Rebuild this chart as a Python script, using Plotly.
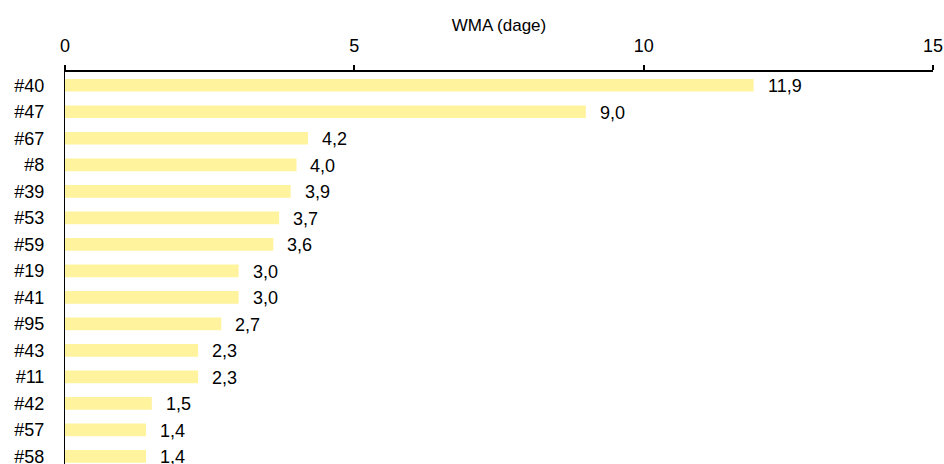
import plotly.graph_objects as go

# WMA per location (dage)
locations = ['#40', '#47', '#67', '#8', '#39', '#53', '#59', '#19', '#41', '#95',
             '#43', '#11', '#42', '#57', '#58']
wma = [11.9, 9.0, 4.2, 4.0, 3.9, 3.7, 3.6, 3.0, 3.0, 2.7, 2.3, 2.3, 1.5, 1.4, 1.4]
x_ticks = [0, 5, 10, 15]

font_fam = "Liberation Sans, Arial, sans-serif"

fig = go.Figure()
fig.add_trace(go.Bar(
    x=wma, y=locations, orientation='h',
    marker=dict(color='#FFF39E', line=dict(width=0)),
    hoverinfo='skip',
))

# value labels to the right of the bars
for loc, v in zip(locations, wma):
    fig.add_annotation(x=v, y=loc, text=f"{v:.1f}".replace('.', ','),
                       xanchor='left', yanchor='middle', xshift=12, yshift=-1,
                       showarrow=False, font=dict(size=18, color='black', family=font_fam))

fig.update_layout(
    width=944, height=464,
    margin=dict(l=65, r=11, t=72, b=0),
    plot_bgcolor='white', paper_bgcolor='white',
    bargap=0.52, showlegend=False,
    font=dict(family=font_fam, size=18, color='black'),
    xaxis=dict(side='top', range=[0, 15], tickvals=x_ticks,
               showgrid=False, zeroline=False, automargin=False,
               showline=True, linecolor='black', linewidth=2,
               ticks='outside', ticklen=5, tickwidth=2, tickcolor='black',
               ticklabelstandoff=6, ticklabeloverflow='allow',
               title=dict(text='WMA (dage)', font=dict(size=17), standoff=0)),
    yaxis=dict(range=[14.29, -0.5], showgrid=False, zeroline=False, automargin=False,
               showline=True, linecolor='black', linewidth=1,
               ticks='', ticklabelstandoff=16),
)

# drop the default page margin so the 944x464 figure fills the window exactly
fig.write_html("out.html", config={'displayModeBar': False},
               post_script="document.body.style.margin='0';document.body.style.overflow='hidden';")
